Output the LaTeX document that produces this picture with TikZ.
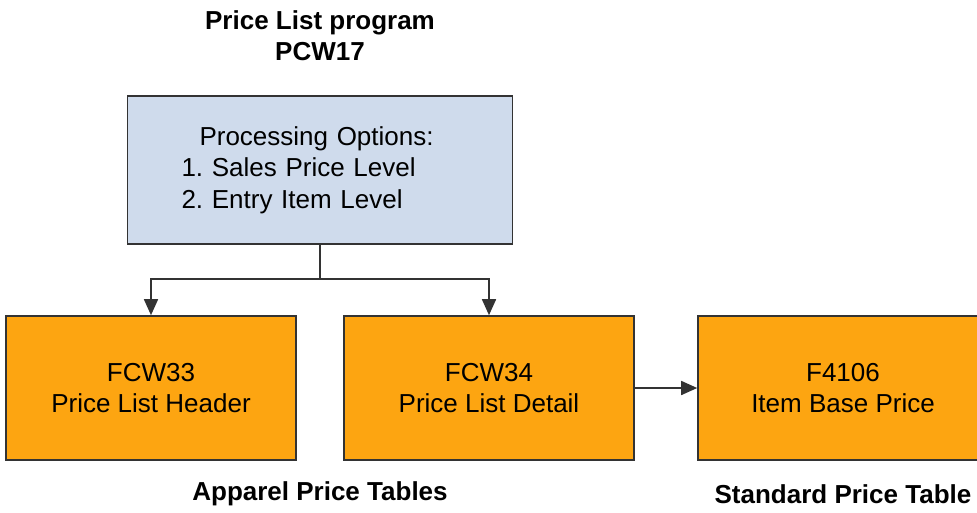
\documentclass[tikz,border=0pt]{standalone}
\usepackage{fontspec}
\setmainfont{Liberation Sans}
\usetikzlibrary{arrows.meta, positioning}
\frenchspacing

\begin{document}
\begin{tikzpicture} [x=1pt, y=-1pt,
			node distance = 338pt,
			on grid,
			line width=1.6pt,
			draw=black!80,
			options/.style={draw=black!80, fill=blueopt, align=left,
				inner xsep=54pt, text width=277pt, minimum height=148pt,
				font=\fontsize{26}{31.5}\selectfont},
			table/.style={draw=black!80, fill=orangetab, align=center,
				minimum width=290pt, minimum height=144pt,
				font=\fontsize{26}{31}\selectfont},
			caption/.style={font=\bfseries\fontsize{26}{31}\selectfont, align=center},
			link/.style={draw=black!80, -{Triangle[length=16pt, width=14pt]}},
		]
		\definecolor{blueopt}{RGB}{207,219,236}
		\definecolor{orangetab}{RGB}{253,165,17}
		\useasboundingbox (0,0) rectangle (977,512);

		% Program 
		\node (title) [caption] at (320,36) {Price List program\\PCW17};
		\node (opts) [options] at (320,170)
			{\hspace*{18pt}Processing Options:\\1. Sales Price Level\\2. Entry Item Level};
		% Tables
		\node (fcw33) [table] at (151,388) {FCW33\\Price List Header};
		\node (fcw34) [table,
			right = of fcw33] {FCW34\\Price List Detail};
		\node (f4106) [table,
			right = 354pt of fcw34] {F4106\\Item Base Price};
		\node (apparel) [caption] at (320,494) {Apparel Price Tables};
		\node (standard) [caption] at (843,494) {Standard Price Table};
		% Arrows
		\coordinate (split) at (320,279);
		\draw (opts.south) -- (split);
		\draw [link] (split) -| (fcw33.north);
		\draw [link] (split) -| (fcw34.north);
		\draw [link] (fcw34) -- (f4106);
	\end{tikzpicture}
\end{document}
